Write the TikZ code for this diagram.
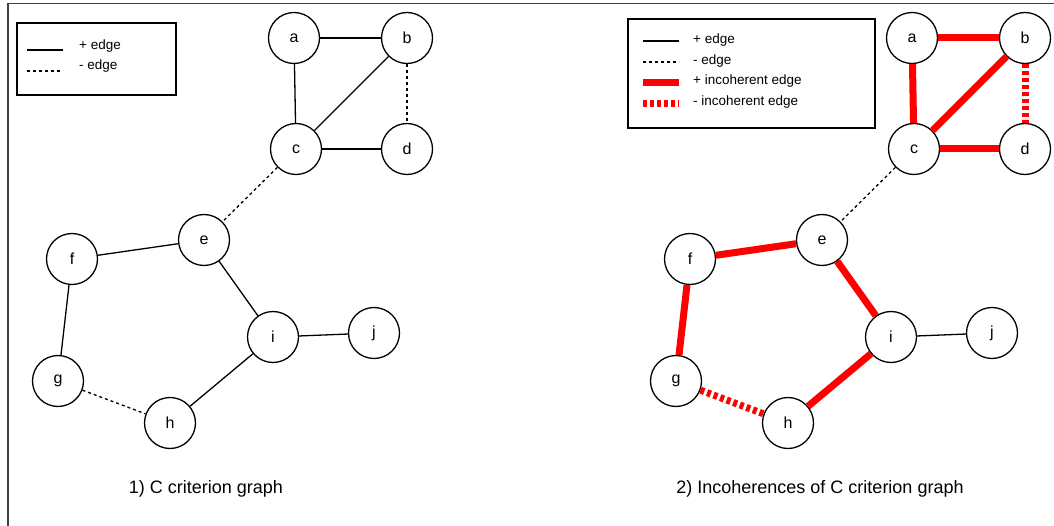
\documentclass[tikz,border=0pt]{standalone}
\usepackage{fontspec}
\setmainfont{Liberation Sans}
\begin{document}
\begin{tikzpicture}[x=1pt,y=-1pt,
  vtx/.style={circle, draw, line width=1.3pt, fill=white, minimum size=51pt, inner sep=0pt, font=\fontsize{16}{18}\selectfont},
  posedge/.style={line width=1.3pt},
  negedge/.style={line width=1.3pt, dash pattern=on 3pt off 3pt},
  iposedge/.style={red, line width=7pt},
  inegedge/.style={red, line width=7pt, dash pattern=on 4pt off 3pt},
  legtext/.style={anchor=west, inner sep=0pt, font=\fontsize{13.5}{15}\selectfont},
  legbox/.style={draw, line width=1.3pt},
  captext/.style={font=\fontsize{18}{20}\selectfont},
  frameline/.style={draw=black!75, line width=1.2pt}]
\useasboundingbox (0,0) rectangle (1054,526);
% frame
\coordinate (f1) at (8,526);
\coordinate (f2) at (8,3.5);
\coordinate (f3) at (1054,3.5);
\draw[frameline] (f1) -- (f2) -- (f3);
% nodes
\foreach \n/\x/\y in {a/294/38, b/407/38, c/296/149, d/407/149, e/204/240, f/72/259, g/58/381, h/170/423, i/273/337, j/374/333}{
  \node[vtx] (L\n) at (\x,\y) {\n};
  \node[vtx] (R\n) at (\x+618,\y) {\n};
}
% left graph edges
\draw[posedge] (La) -- (Lb);
\draw[posedge] (La) -- (Lc);
\draw[posedge] (Lb) -- (Lc);
\draw[negedge] (Lb) -- (Ld);
\draw[posedge] (Lc) -- (Ld);
\draw[negedge] (Lc) -- (Le);
\draw[posedge] (Le) -- (Lf);
\draw[posedge] (Lf) -- (Lg);
\draw[negedge] (Lg) -- (Lh);
\draw[posedge] (Lh) -- (Li);
\draw[posedge] (Le) -- (Li);
\draw[posedge] (Li) -- (Lj);
% right graph edges
\draw[iposedge] (Ra) -- (Rb);
\draw[iposedge] (Ra) -- (Rc);
\draw[iposedge] (Rb) -- (Rc);
\draw[inegedge] (Rb) -- (Rd);
\draw[iposedge] (Rc) -- (Rd);
\draw[negedge] (Rc) -- (Re);
\draw[iposedge] (Re) -- (Rf);
\draw[iposedge] (Rf) -- (Rg);
\draw[inegedge] (Rg) -- (Rh);
\draw[iposedge] (Rh) -- (Ri);
\draw[iposedge] (Re) -- (Ri);
\draw[posedge] (Ri) -- (Rj);
% left legend
\draw[legbox] (17,23) rectangle (176,95);
\coordinate (l1a) at (27,50); \coordinate (l1b) at (63,50);
\coordinate (l2a) at (27,71); \coordinate (l2b) at (63,71);
\draw[posedge] (l1a) -- (l1b);
\draw[negedge] (l2a) -- (l2b);
\node[legtext] (lt1) at (79,46) {+ edge};
\node[legtext] (lt2) at (79,66) {- edge};
% right legend
\draw[legbox] (628,19) rectangle (875,128);
\coordinate (r1a) at (643,41); \coordinate (r1b) at (679,41);
\coordinate (r2a) at (643,62); \coordinate (r2b) at (679,62);
\coordinate (r3a) at (643,83); \coordinate (r3b) at (679,83);
\coordinate (r4a) at (643,104); \coordinate (r4b) at (679,104);
\draw[posedge] (r1a) -- (r1b);
\draw[negedge] (r2a) -- (r2b);
\draw[iposedge] (r3a) -- (r3b);
\draw[inegedge] (r4a) -- (r4b);
\node[legtext] (rt1) at (693,40) {+ edge};
\node[legtext] (rt2) at (693,61) {- edge};
\node[legtext] (rt3) at (693,81) {+ incoherent edge};
\node[legtext] (rt4) at (693,102) {- incoherent edge};
% captions
\node[captext] (cap1) at (206,489) {1) C criterion graph};
\node[captext] (cap2) at (820,489) {2) Incoherences of C criterion graph};
\end{tikzpicture}
\end{document}
